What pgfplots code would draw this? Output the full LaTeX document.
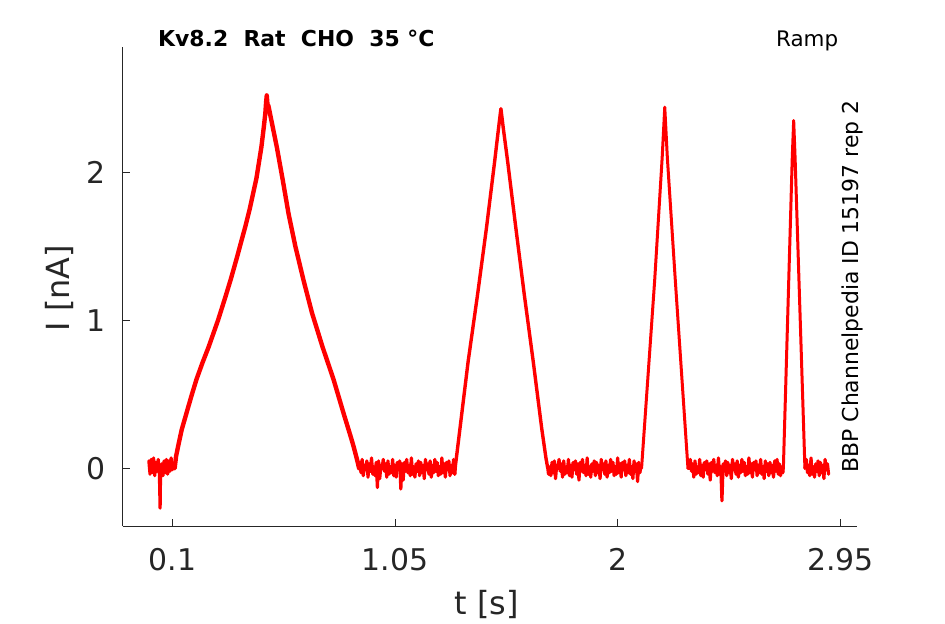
\documentclass[border=0pt]{standalone}
\usepackage{pgfplots}
\pgfplotsset{compat=1.18}
\usepackage{fontspec}
\setmainfont{DejaVu Sans}
\definecolor{mg}{RGB}{38,38,38}
\definecolor{tr}{RGB}{255,0,0}
\begin{document}
\begin{tikzpicture}
\useasboundingbox (-122.7bp,-98bp) rectangle (822.3bp,526bp);
\begin{axis}[
 at={(0,0)}, anchor=south west,
 scale only axis, width=734.3bp, height=479.3bp,
 xmin=-0.1116, xmax=3.0212, ymin=-0.39, ymax=2.849,
 axis x line*=bottom, axis y line*=left,
 axis line style={mg, line width=0.9bp, -},
 xtick={0.1,1.05,2,2.95}, xticklabels={0.1,1.05,2,2.95},
 ytick={0,1,2}, yticklabels={0,1,2},
 tick align=inside, major tick length=7bp,
 tick style={mg, line width=0.9bp},
 /pgf/number format/assume math mode=true,
 ticklabel style={font=\fontsize{30}{36}\selectfont, text=mg, inner sep=0pt},
 xticklabel style={anchor=north, yshift=-22bp},
 yticklabel style={anchor=east, xshift=-16.7bp},
 every axis plot/.append style={tr, line join=round, line cap=round},
]
% baseline A
\addplot[line width=3.2bp] coordinates {
(0.000,0.05) (0.005,-0.04) (0.010,0.06) (0.015,-0.03) (0.020,0.07) (0.025,-0.05)
(0.030,0.04) (0.035,-0.02) (0.040,0.06) (0.045,-0.04) (0.048,-0.27) (0.050,-0.02)
(0.055,0.03) (0.060,-0.05) (0.065,0.05) (0.070,-0.03) (0.075,0.06) (0.080,-0.04)
(0.085,0.05) (0.090,-0.02) (0.095,0.07) (0.100,-0.01) (0.105,0.03)
};
% ramp 1
\addplot[line width=4.4bp] coordinates {
(0.105,0.03) (0.110,0.00) (0.116,0.08) (0.125,0.15) (0.140,0.26) (0.160,0.37)
(0.180,0.48) (0.203,0.60) (0.228,0.71) (0.255,0.82) (0.275,0.91) (0.295,1.00)
(0.325,1.15) (0.350,1.28) (0.375,1.42) (0.392,1.52) (0.411,1.63) (0.430,1.75)
(0.459,1.96) (0.480,2.17) (0.490,2.30) (0.497,2.40) (0.500,2.47) (0.503,2.52)
(0.506,2.46) (0.510,2.45) (0.519,2.38) (0.546,2.17) (0.571,1.95) (0.596,1.72)
(0.625,1.50) (0.660,1.27) (0.696,1.05) (0.741,0.82) (0.788,0.60) (0.831,0.37)
(0.860,0.22) (0.873,0.15) (0.888,0.06) (0.897,0.00)
};
% baseline B
\addplot[line width=3.2bp] coordinates {
(0.897,0.00) (0.900,0.04) (0.905,-0.03) (0.910,0.06) (0.915,-0.05) (0.920,0.02)
(0.925,-0.01) (0.930,0.05) (0.935,-0.06) (0.940,0.03) (0.945,-0.02) (0.950,0.07)
(0.955,-0.04) (0.960,0.01) (0.965,-0.05) (0.970,0.04) (0.975,-0.13) (0.980,0.05)
(0.985,-0.07) (0.990,0.02) (0.995,0.00) (1.000,0.06) (1.005,-0.02) (1.010,0.03)
(1.015,-0.06) (1.020,0.05) (1.025,-0.04) (1.030,0.01) (1.035,-0.03) (1.040,0.06)
(1.045,-0.05) (1.050,0.02) (1.055,-0.06) (1.060,0.04) (1.065,-0.01) (1.070,0.05)
(1.075,-0.14) (1.080,0.03) (1.085,-0.08) (1.090,0.04) (1.095,-0.02) (1.100,0.06)
(1.105,-0.03) (1.110,0.02) (1.115,-0.05) (1.120,0.07) (1.125,-0.04) (1.130,0.01)
(1.135,-0.06) (1.140,0.03) (1.145,-0.02) (1.150,0.05) (1.155,-0.05) (1.160,0.04)
(1.165,-0.03) (1.170,0.02) (1.175,-0.07) (1.180,0.06) (1.185,-0.01) (1.190,0.03)
(1.195,-0.04) (1.200,0.05) (1.205,-0.06) (1.210,0.02) (1.215,-0.03) (1.220,0.06)
(1.225,-0.02) (1.230,0.04) (1.235,-0.05) (1.240,0.01) (1.245,-0.04) (1.250,0.07)
(1.255,-0.03) (1.260,0.03) (1.265,-0.06) (1.270,0.04) (1.275,-0.01) (1.280,0.05)
(1.285,-0.05) (1.290,0.02) (1.295,-0.03) (1.300,0.06) (1.305,-0.04)
};
% ramp 2
\addplot[line width=3.4bp] coordinates {
(1.305,-0.04) (1.308,0.02) (1.312,0.07) (1.362,0.72) (1.402,1.17) (1.440,1.62)
(1.475,2.07) (1.492,2.30) (1.502,2.43) (1.512,2.30) (1.531,2.07) (1.566,1.62)
(1.602,1.17) (1.640,0.72) (1.676,0.27) (1.694,0.07) (1.702,0.00)
};
% baseline C
\addplot[line width=3.2bp] coordinates {
(1.702,0.00) (1.705,-0.04) (1.710,0.01) (1.715,-0.05) (1.720,0.04) (1.725,-0.03)
(1.730,0.05) (1.735,-0.07) (1.740,0.02) (1.745,0.00) (1.750,0.06) (1.755,-0.02)
(1.760,0.03) (1.765,-0.06) (1.770,0.05) (1.775,-0.04) (1.780,0.01) (1.785,-0.03)
(1.790,0.06) (1.795,-0.05) (1.800,0.02) (1.805,-0.06) (1.810,0.04) (1.815,-0.01)
(1.820,0.05) (1.825,-0.04) (1.830,0.03) (1.835,-0.08) (1.840,0.04) (1.845,-0.02)
(1.850,0.06) (1.855,-0.03) (1.860,0.02) (1.865,-0.05) (1.870,0.07) (1.875,-0.04)
(1.880,0.01) (1.885,-0.06) (1.890,0.03) (1.895,-0.02) (1.900,0.05) (1.905,-0.05)
(1.910,0.04) (1.915,-0.03) (1.920,0.02) (1.925,-0.07) (1.930,0.06) (1.935,-0.01)
(1.940,0.03) (1.945,-0.04) (1.950,0.05) (1.955,-0.06) (1.960,0.02) (1.965,-0.03)
(1.970,0.06) (1.975,-0.02) (1.980,0.04) (1.985,-0.05) (1.990,0.01) (1.995,-0.04)
(2.000,0.07) (2.005,-0.03) (2.010,0.03) (2.015,-0.06) (2.020,0.04) (2.025,-0.01)
(2.030,0.05) (2.035,-0.05) (2.040,0.02) (2.045,-0.03) (2.050,0.06) (2.055,-0.04)
(2.060,0.01) (2.065,-0.07) (2.070,0.05) (2.075,-0.02) (2.080,0.03) (2.085,-0.09)
(2.090,0.04) (2.095,-0.03) (2.100,0.02)
};
% ramp 3
\addplot[line width=3.0bp] coordinates {
(2.100,0.02) (2.102,0.00) (2.158,1.27) (2.190,2.10) (2.201,2.44) (2.212,2.10)
(2.246,1.27) (2.300,0.00)
};
% baseline D
\addplot[line width=3.2bp] coordinates {
(2.300,0.00) (2.305,0.00) (2.310,0.06) (2.315,-0.02) (2.320,0.03) (2.325,-0.06)
(2.330,0.05) (2.335,-0.04) (2.340,0.01) (2.345,-0.03) (2.350,0.06) (2.355,-0.05)
(2.360,0.02) (2.365,-0.06) (2.370,0.04) (2.375,-0.01) (2.380,0.05) (2.385,-0.04)
(2.390,0.03) (2.395,-0.08) (2.400,0.04) (2.405,-0.02) (2.410,0.06) (2.415,-0.03)
(2.420,0.02) (2.425,-0.05) (2.430,0.07) (2.435,-0.04) (2.440,0.01) (2.445,-0.22)
(2.450,0.03) (2.455,-0.02) (2.460,0.05) (2.465,-0.05) (2.470,0.04) (2.475,-0.03)
(2.480,0.02) (2.485,-0.07) (2.490,0.06) (2.495,-0.01) (2.500,0.03) (2.505,-0.04)
(2.510,0.05) (2.515,-0.06) (2.520,0.02) (2.525,-0.03) (2.530,0.06) (2.535,-0.02)
(2.540,0.04) (2.545,-0.05) (2.550,0.01) (2.555,-0.04) (2.560,0.07) (2.565,-0.03)
(2.570,0.03) (2.575,-0.06) (2.580,0.04) (2.585,-0.01) (2.590,0.05) (2.595,-0.05)
(2.600,0.02) (2.605,-0.03) (2.610,0.06) (2.615,-0.04) (2.620,0.01) (2.625,-0.07)
(2.630,0.05) (2.635,-0.02) (2.640,0.03) (2.645,-0.05) (2.650,0.04) (2.655,-0.03)
(2.660,0.02) (2.665,-0.06) (2.670,0.05) (2.675,-0.02) (2.680,0.06) (2.685,-0.04)
(2.690,0.03) (2.695,-0.05) (2.700,0.01) (2.705,-0.03)
};
% ramp 4
\addplot[line width=3.0bp] coordinates {
(2.705,-0.03) (2.707,0.00) (2.745,2.10) (2.751,2.35) (2.757,2.10) (2.799,0.00)
};
% baseline E
\addplot[line width=3.2bp] coordinates {
(2.799,0.00) (2.805,0.06) (2.810,-0.03) (2.815,0.02) (2.820,-0.05) (2.825,0.07)
(2.830,-0.04) (2.835,0.01) (2.840,-0.06) (2.845,0.03) (2.850,-0.02) (2.855,0.05)
(2.860,-0.05) (2.865,0.04) (2.870,-0.03) (2.875,0.02) (2.880,-0.07) (2.885,0.06)
(2.890,-0.01) (2.895,0.03) (2.900,-0.04)
};
\end{axis}
\node[anchor=base, inner sep=0pt, font=\fontsize{32}{38}\selectfont, text=mg] at (364.3bp,-88bp) {t [s]};
\node[anchor=base, rotate=90, inner sep=0pt, font=\fontsize{32}{38}\selectfont, text=mg] at (-52.7bp,238bp) {I [nA]};
\node[anchor=base west, inner sep=0pt, font=\bfseries\fontsize{22}{26}\selectfont] at (35.3bp,479.3bp) {Kv8.2\ \ Rat\ \ CHO\ \ 35 °C};
\node[anchor=base east, inner sep=0pt, font=\fontsize{21.5}{25}\selectfont] at (715.6bp,479.3bp) {Ramp};
\node[anchor=base, rotate=90, inner sep=0pt, font=\fontsize{22}{26}\selectfont] at (735.3bp,239.5bp) {BBP Channelpedia ID 15197 rep 2};
\end{tikzpicture}
\end{document}
